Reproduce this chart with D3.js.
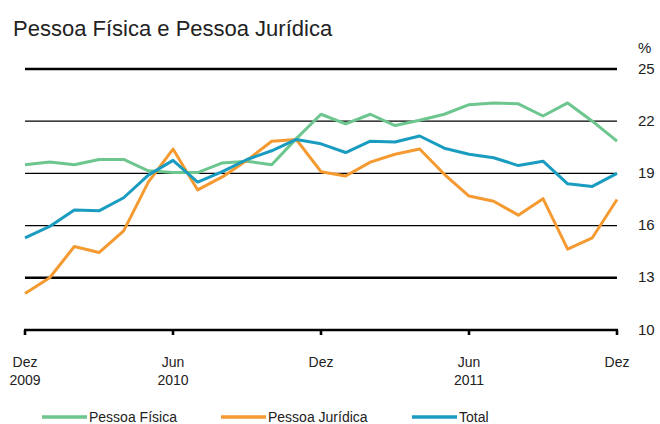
<!DOCTYPE html>
<meta charset="utf-8">
<script src="https://d3js.org/d3.v7.min.js"></script>
<style>
  body { margin: 0; background: #fff; }
  text { font-family: "Liberation Sans", Arial, sans-serif; fill: #222; }
</style>
<div id="my_dataviz"></div>
<script>
// monthly values, Dez 2009 .. Dez 2011
const months = d3.range(25);
const pessoaFisica = [19.5, 19.65, 19.5, 19.8, 19.8, 19.15, 19.05, 19.05, 19.6, 19.7, 19.5, 21.0,
  22.4, 21.85, 22.4, 21.75, 22.05, 22.4, 22.95, 23.05, 23.0, 22.3, 23.05, 22.0, 20.85];
const pessoaJuridica = [12.1, 13.0, 14.8, 14.45, 15.7, 18.5, 20.4, 18.05, 18.8, 19.75, 20.85, 20.95,
  19.1, 18.85, 19.65, 20.1, 20.4, 18.95, 17.7, 17.4, 16.6, 17.55, 14.65, 15.3, 17.5];
const total = [15.3, 15.95, 16.9, 16.85, 17.6, 18.9, 19.75, 18.5, 19.1, 19.8, 20.3, 20.95,
  20.7, 20.2, 20.85, 20.8, 21.15, 20.45, 20.1, 19.9, 19.45, 19.7, 18.4, 18.25, 19.0];
const yTicks = [10, 13, 16, 19, 22, 25];
const xTicks = [{m: 0, l1: "Dez", l2: "2009"}, {m: 6, l1: "Jun", l2: "2010"}, {m: 12, l1: "Dez", l2: ""},
  {m: 18, l1: "Jun", l2: "2011"}, {m: 24, l1: "Dez", l2: ""}];
const series = [
  {name: "Pessoa Física", values: pessoaFisica, color: "#6cc68e"},
  {name: "Pessoa Jurídica", values: pessoaJuridica, color: "#f59a31"},
  {name: "Total", values: total, color: "#1a9cc0"}
];

const W = 660, H = 424;
const margin = {top: 69, right: 43, bottom: 94, left: 25};

const svg = d3.select("#my_dataviz").append("svg")
  .attr("width", W).attr("height", H);

const x = d3.scaleLinear().domain([0, 24]).range([margin.left, W - margin.right]);
const y = d3.scaleLinear().domain([10, 25]).range([H - margin.bottom, margin.top]);

// title
svg.append("text").attr("x", 13).attr("y", 36)
  .style("font-size", "22px").text("Pessoa Física e Pessoa Jurídica");

// gridlines
svg.append("g").selectAll("line")
  .data(yTicks.filter(d => d > 10))
  .join("line")
  .attr("x1", x(0)).attr("x2", x(24))
  .attr("y1", d => y(d)).attr("y2", d => y(d))
  .attr("stroke", "#000")
  .attr("stroke-width", d => (d === 25 || d === 13) ? 2.6 : 1.2);

// right axis labels
svg.append("g").selectAll("text")
  .data(yTicks)
  .join("text")
  .attr("x", 638).attr("y", d => y(d) + 4.5)
  .style("font-size", "15px").text(d => d);
svg.append("text").attr("x", 638).attr("y", 53)
  .style("font-size", "15px").text("%");

// bottom axis
const axis = svg.append("g").attr("transform", `translate(0,${y(10)})`);
axis.append("line").attr("x1", x(0) - 1).attr("x2", x(24) + 1)
  .attr("stroke", "#000").attr("stroke-width", 2.6);
axis.selectAll(".tk").data(xTicks).join("line").attr("class", "tk")
  .attr("x1", d => x(d.m)).attr("x2", d => x(d.m))
  .attr("y1", 0).attr("y2", 5)
  .attr("stroke", "#000").attr("stroke-width", 2.6);
axis.selectAll(".l1").data(xTicks).join("text").attr("class", "l1")
  .attr("x", d => x(d.m)).attr("y", 37).attr("text-anchor", "middle")
  .style("font-size", "14px").text(d => d.l1);
axis.selectAll(".l2").data(xTicks).join("text").attr("class", "l2")
  .attr("x", d => x(d.m)).attr("y", 55).attr("text-anchor", "middle")
  .style("font-size", "14px").text(d => d.l2);

// lines
const line = d3.line().x((d, i) => x(months[i])).y(d => y(d));
svg.append("g").selectAll("path")
  .data(series)
  .join("path")
  .attr("d", d => line(d.values))
  .attr("fill", "none")
  .attr("stroke", d => d.color)
  .attr("stroke-width", 3)
  .attr("stroke-linejoin", "round");

// legend
const legX = [42, 221, 412];
const leg = svg.append("g").selectAll("g")
  .data(series)
  .join("g")
  .attr("transform", (d, i) => `translate(${legX[i]},417)`);
leg.append("line").attr("x1", 0).attr("x2", 45)
  .attr("stroke", d => d.color).attr("stroke-width", 3.5);
leg.append("text").attr("x", 47).attr("y", 5)
  .style("font-size", "14px").text(d => d.name);
</script>
